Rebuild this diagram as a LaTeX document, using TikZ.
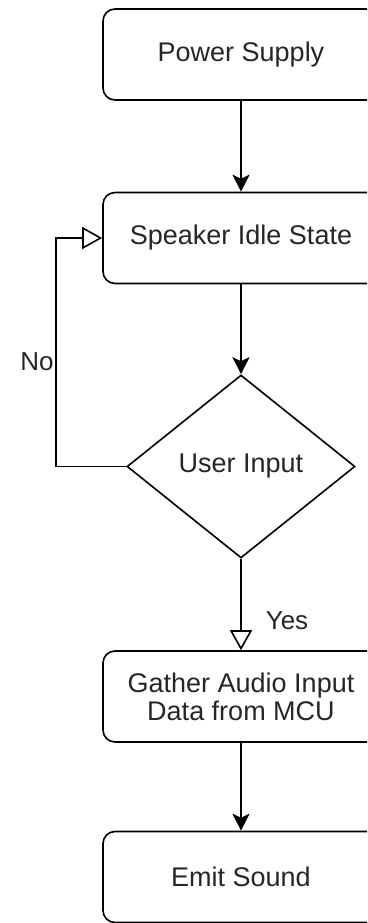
\documentclass[tikz,border=0pt]{standalone}
\usepackage{fontspec}
\setmainfont{Liberation Sans}
\usetikzlibrary{shapes.geometric,arrows.meta}

\begin{document}
\begin{tikzpicture}[x=1pt,y=-1pt,
	stepbox/.style={draw, line width=1.6pt, rounded corners=12pt, minimum width=276pt, minimum height=91pt, inner sep=0pt, text=black!85, font=\fontsize{27pt}{28pt}\selectfont, align=center},
	choice/.style={draw, shape=diamond, line width=1.6pt, minimum width=228pt, minimum height=183pt, inner sep=0pt, text=black!85, font=\fontsize{27pt}{28pt}\selectfont},
	flow/.style={line width=1.6pt, -{Stealth[length=17pt, width=17pt, inset=4pt]}},
	branch/.style={line width=1.6pt, -{Triangle[open, length=20pt, width=22pt, line width=1.6pt]}},
	tag/.style={text=black!85, font=\fontsize{26pt}{28pt}\selectfont}]
	% page frame, the boxes run past the right edge
	\useasboundingbox (0,0) rectangle (367,923);
	\clip (0,0) rectangle (367,923);
	% blocks
	\node[stepbox] (power) at (241,54.5) {Power Supply};
	\node[stepbox] (idle) at (241,238) {Speaker Idle State};
	\node[choice] (input) at (241,466.5) {User Input};
	\node[stepbox] (gather) at (241,696.5) {Gather Audio Input\\Data from MCU};
	\node[stepbox] (emit) at (241,877) {Emit Sound};
	% connectors
	\draw[flow] (power) -- (idle);
	\draw[flow] (idle) -- (input);
	\draw[branch] (input.west) -- ++(-70,0) |- (idle.west);
	\draw[branch] (input) -- (gather);
	\draw[flow] (gather) -- (emit);
	% branch labels
	\node[tag] (no) at (37,362) {No};
	\node[tag] (yes) at (287,621) {Yes};
\end{tikzpicture}
\end{document}
